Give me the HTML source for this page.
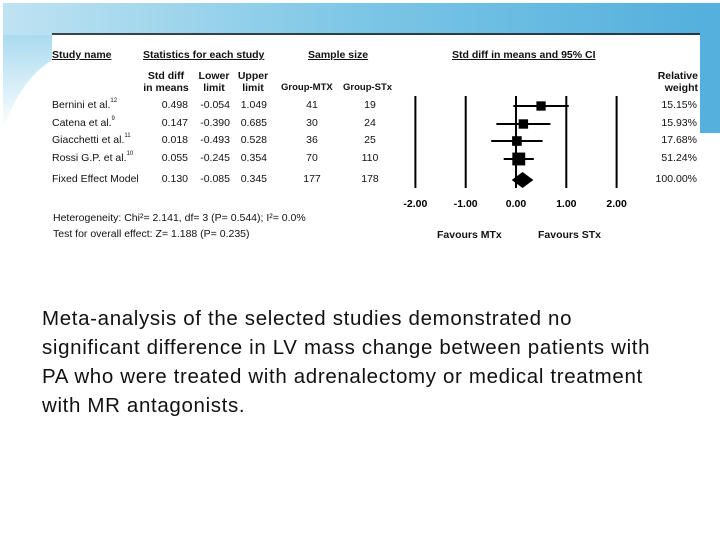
<!DOCTYPE html>
<html><head><meta charset="utf-8"><style>
html,body{margin:0;padding:0;width:720px;height:540px;overflow:hidden;background:#fff;font-family:"Liberation Sans",sans-serif}
#bg{position:absolute;left:0;top:0}
.t{position:absolute;font-size:10.5px;color:#111;white-space:nowrap;line-height:12px}
.b{font-weight:bold}
.u{text-decoration:underline}
.r{text-align:right}
.c{text-align:center}
#para{position:absolute;left:42px;top:304px;width:670px;font-size:20.5px;letter-spacing:0.65px;line-height:29px;color:#111;white-space:nowrap}
</style></head><body>
<svg id="bg" width="720" height="540">
<defs>
<linearGradient id="g1" x1="0" y1="0" x2="1" y2="0"><stop offset="0" stop-color="#bfe3f2"/><stop offset="0.5" stop-color="#7cc6e6"/><stop offset="1" stop-color="#52afdc"/></linearGradient>
<linearGradient id="g2" x1="0" y1="0" x2="0" y2="1"><stop offset="0" stop-color="#a9dbef"/><stop offset="1" stop-color="#ffffff"/></linearGradient>
</defs>
<rect x="3" y="3" width="717" height="32" fill="url(#g1)"/>
<path d="M3 35 L3 130 Q20 80 52 60 L52 35 Z" fill="url(#g2)"/>
<rect x="700" y="3" width="20" height="130" fill="#55b0dd"/>
<rect x="52" y="35" width="648" height="215" fill="#fff"/>
<line x1="52" y1="34" x2="700" y2="34" stroke="#111" stroke-width="1.5"/>
</svg>
<svg id="forest" width="720" height="540" style="position:absolute;left:0;top:0"></svg>
<div class="t b u" style="left:52px;top:49px">Study name</div>
<div class="t b u" style="left:143px;top:49px">Statistics for each study</div>
<div class="t b u" style="left:308px;top:49px">Sample size</div>
<div class="t b u" style="left:452px;top:49px">Std diff in means and 95% CI</div>
<div class="t b c" style="left:142px;top:70px;width:48px">Std diff<br>in means</div>
<div class="t b c" style="left:196px;top:70px;width:36px">Lower<br>limit</div>
<div class="t b c" style="left:235px;top:70px;width:36px">Upper<br>limit</div>
<div class="t b" style="left:281px;top:82px;font-size:9.5px">Group-MTX</div>
<div class="t b" style="left:343px;top:82px;font-size:9.5px">Group-STx</div>
<div class="t b r" style="left:640px;top:70px;width:58px">Relative<br>weight</div>
<div id="rows"></div>
<div class="t" style="left:53px;top:212px">Heterogeneity: Chi²= 2.141, df= 3 (P= 0.544); I²= 0.0%</div>
<div class="t" style="left:53px;top:228px">Test for overall effect: Z= 1.188 (P= 0.235)</div>
<div class="t b" style="left:437px;top:229px">Favours MTx</div>
<div class="t b" style="left:538px;top:229px">Favours STx</div>
<div id="para">Meta-analysis of the selected studies demonstrated no<br>significant difference in LV mass change between patients with<br>PA who were treated with adrenalectomy or medical treatment<br>with MR antagonists.</div>
<script>
const studies=["Bernini et al.","Catena et al.","Giacchetti et al.","Rossi G.P. et al.","Fixed Effect Model"];
const refs=["12","9","11","10",""];
const means=[0.498,0.147,0.018,0.055,0.130];
const lowers=[-0.054,-0.390,-0.493,-0.245,-0.085];
const uppers=[1.049,0.685,0.528,0.354,0.345];
const nMTX=[41,30,36,70,177];
const nSTX=[19,24,25,110,178];
const weights=[15.15,15.93,17.68,51.24,100.00];
const ticks=[-2,-1,0,1,2];
const x=v=>516+v*50.3;
const rowY=[106,124,141,159,180];
const NS="http://www.w3.org/2000/svg";
const svg=document.getElementById('forest');
function mk(tag,attrs){const e=document.createElementNS(NS,tag);for(const k in attrs)e.setAttribute(k,attrs[k]);svg.appendChild(e);return e;}
ticks.forEach(t=>{
 const l=mk('line',{x1:x(t),x2:x(t),y1:96,y2:188,stroke:'#000','stroke-width':2});
 
 
 const tx=mk('text',{x:x(t),y:207,'text-anchor':'middle','font-size':10.5,'font-weight':'bold','font-family':'Liberation Sans, sans-serif'});
 tx.textContent=t.toFixed(2);
 
 
});
const rows=document.getElementById('rows');
function div(cls,style,txt,name){const d=document.createElement('div');d.className='t '+cls;d.style.cssText=style;d.innerHTML=txt;
 
 
 rows.appendChild(d);}
studies.forEach((s,i)=>{
 const y=rowY[i],ty=y-7;
 div('',`left:52px;top:${ty}px`,s+(refs[i]?`<span style="font-size:6px;position:relative;top:-6px">${refs[i]}</span>`:''),'study-label');
 div('r',`left:140px;top:${ty}px;width:48px`,means[i].toFixed(3),'std-diff-value');
 div('r',`left:190px;top:${ty}px;width:40px`,lowers[i].toFixed(3),'lower-limit-value');
 div('r',`left:230px;top:${ty}px;width:37px`,uppers[i].toFixed(3),'upper-limit-value');
 div('c',`left:292px;top:${ty}px;width:40px`,nMTX[i],'group-mtx-value');
 div('c',`left:350px;top:${ty}px;width:40px`,nSTX[i],'group-stx-value');
 div('r',`left:640px;top:${ty}px;width:57px`,weights[i].toFixed(2)+'%','weight-value');
 if(i<studies.length-1){
  const l=mk('line',{x1:x(lowers[i]),x2:x(uppers[i]),y1:y,y2:y,stroke:'#000','stroke-width':2});
  
  
  const sz=5+Math.sqrt(weights[i])*1.1;
  const r=mk('rect',{x:x(means[i])-sz/2,y:y-sz/2,width:sz,height:sz,fill:'#000'});
  
  
 } else {
  const p=mk('polygon',{points:`${x(lowers[i])},${y} ${x(means[i])},${y-8} ${x(uppers[i])},${y} ${x(means[i])},${y+8}`,fill:'#000'});
  
  
 }
});
</script>
</body></html>
